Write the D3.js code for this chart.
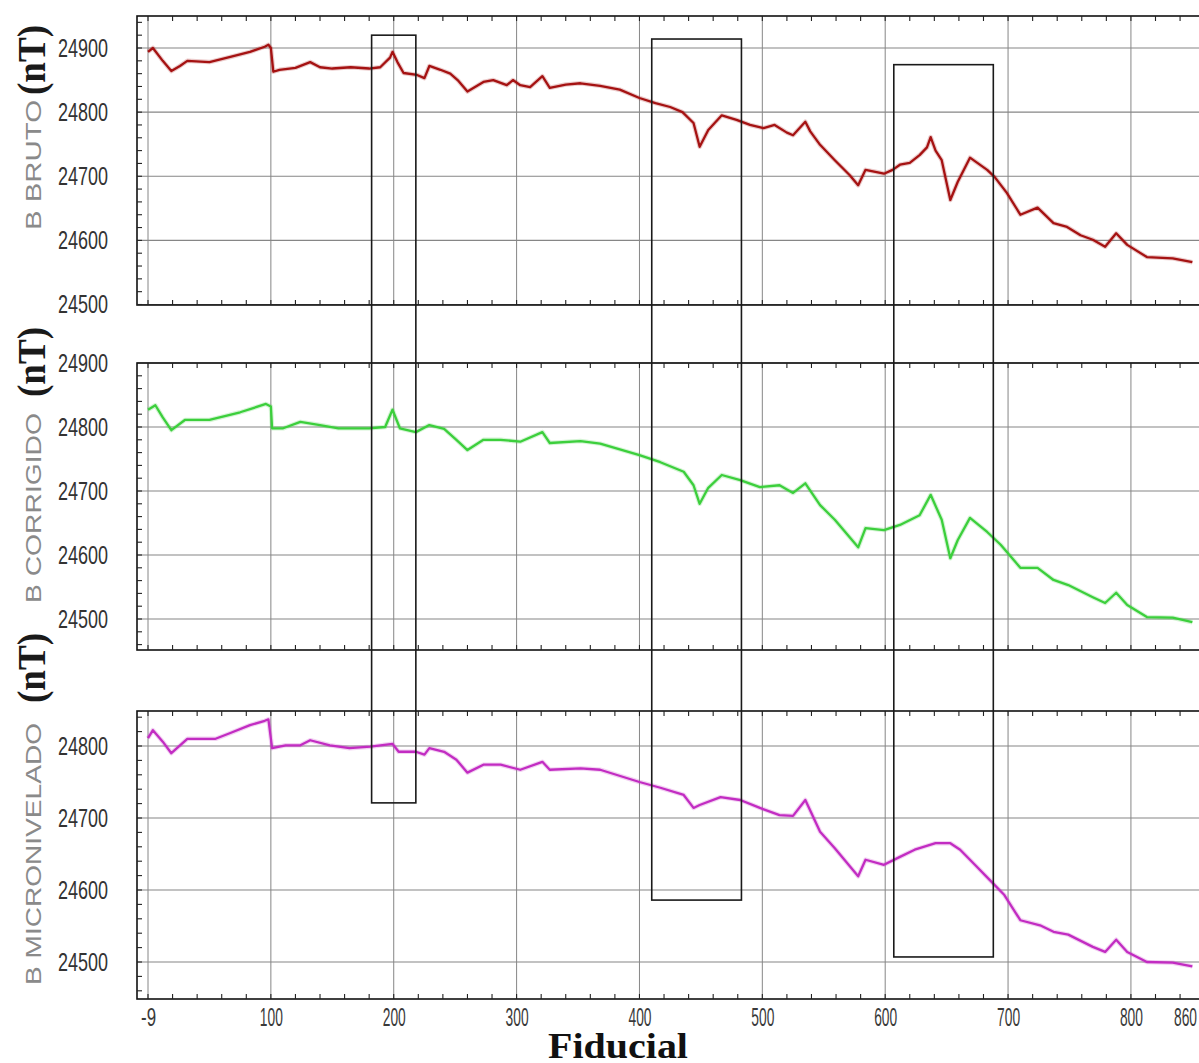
<!DOCTYPE html>
<html>
<head>
<meta charset="utf-8">
<script src="https://cdn.jsdelivr.net/npm/d3@7"></script>
<style>
  body { margin: 0; background: #fff; }
  svg { display: block; }
</style>
</head>
<body>
<svg id="chart" width="1199" height="1063"></svg>
<script>
// ---- data -------------------------------------------------------------
const fiducialTicks = [0, 100, 200, 300, 400, 500, 600, 700, 800, 844];
const fiducialTickLabels = ["-9", "100", "200", "300", "400", "500", "600", "700", "800", "860"];
const axisTitle = "Fiducial";
const unitLabel = "(nT)";
const panelTitles = ["B BRUTO", "B CORRIGIDO", "B MICRONIVELADO"];

const yTicksBruto = [24500, 24600, 24700, 24800, 24900];
const yTicksCorrigido = [24500, 24600, 24700, 24800, 24900];
const yTicksMicro = [24500, 24600, 24700, 24800];

// [fiducial, nT]
const bruto = [
  [0,24894],[4,24900],[12,24880],[19,24864],[26,24872],[32,24880],[50,24878],[67,24886],
  [83,24894],[95,24902],[98,24905],[100,24900],[102,24863],[107,24866],[120,24869],[132,24878],
  [140,24870],[150,24868],[165,24870],[180,24868],[189,24870],[197,24885],[199,24894],[203,24878],
  [208,24861],[219,24858],[225,24853],[229,24872],[238,24866],[246,24860],[252,24850],[260,24832],
  [273,24847],[281,24850],[292,24842],[297,24850],[303,24842],[311,24839],[321,24856],[327,24838],
  [340,24843],[352,24845],[368,24841],[384,24835],[400,24822],[413,24814],[425,24808],[435,24800],
  [444,24783],[449,24746],[456,24772],[467,24795],[479,24788],[490,24780],[501,24775],[510,24780],
  [520,24768],[525,24764],[535,24785],[539,24770],[547,24749],[559,24725],[571,24702],[578,24686],
  [584,24710],[592,24707],[599,24704],[606,24710],[612,24718],[620,24721],[628,24733],[634,24745],
  [637,24761],[641,24740],[646,24725],[653,24663],[659,24691],[669,24729],[683,24710],[689,24699],
  [699,24674],[710,24640],[724,24651],[737,24627],[748,24621],[759,24608],[769,24601],[779,24590],
  [788,24611],[797,24593],[813,24574],[834,24572],[850,24566]
];

const corrigido = [
  [0,24827],[6,24834],[12,24815],[19,24795],[30,24811],[50,24811],[75,24823],[96,24836],
  [100,24832],[101,24798],[110,24798],[124,24808],[140,24803],[155,24798],[180,24798],[193,24800],
  [199,24827],[205,24798],[218,24792],[229,24803],[241,24797],[251,24780],[260,24764],[273,24780],
  [287,24780],[303,24777],[321,24792],[327,24775],[352,24778],[368,24774],[400,24756],[417,24745],
  [436,24730],[444,24709],[449,24680],[456,24705],[467,24725],[482,24717],[498,24706],[514,24709],
  [525,24697],[535,24712],[547,24678],[559,24655],[578,24612],[584,24642],[599,24639],[612,24647],
  [628,24662],[637,24694],[646,24655],[653,24595],[659,24623],[669,24658],[683,24636],[694,24616],
  [710,24580],[724,24580],[737,24561],[749,24553],[769,24534],[779,24525],[788,24541],[797,24522],
  [813,24503],[834,24502],[850,24495]
];

const micronivelado = [
  [0,24811],[4,24822],[12,24806],[19,24790],[32,24810],[55,24810],[67,24818],[83,24829],
  [95,24835],[98,24837],[101,24797],[112,24801],[124,24801],[132,24808],[148,24801],[164,24797],
  [181,24799],[199,24803],[204,24792],[218,24792],[225,24788],[229,24797],[241,24792],[251,24781],
  [260,24763],[273,24774],[287,24774],[303,24767],[321,24778],[327,24767],[352,24769],[368,24767],
  [400,24750],[417,24742],[436,24732],[444,24714],[449,24718],[466,24729],[482,24725],[498,24714],
  [514,24704],[525,24703],[535,24725],[547,24681],[559,24658],[578,24619],[584,24642],[599,24635],
  [612,24646],[624,24656],[641,24665],[653,24665],[661,24656],[673,24635],[685,24614],[697,24593],
  [710,24558],[726,24551],[737,24542],[749,24538],[769,24521],[779,24514],[788,24531],[797,24514],
  [813,24500],[834,24499],[850,24494]
];

// highlighted fiducial windows: x range, top (upper panel, nT) and bottom (lower panel, nT)
const windows = [
  { from: 182, to: 218, top: 24920, bottom: 24721 },
  { from: 410, to: 483, top: 24914, bottom: 24586 },
  { from: 607, to: 688, top: 24874, bottom: 24507 }
];

// ---- layout -----------------------------------------------------------
const svg = d3.select("#chart");
const frameLeft = 137, frameRight = 1201;

const x = d3.scaleLinear().domain([0, 855]).range([148, 1198.5]);

const panels = [
  { title: panelTitles[0], data: bruto, ticks: yTicksBruto, color: "#a51212",
    y: d3.scaleLinear().domain([24500, 24900]).range([304.5, 48]), top: 16, bottom: 305,
    titleY: 165, titleLen: 130, unitY: 60 },
  { title: panelTitles[1], data: corrigido, ticks: yTicksCorrigido, color: "#3ccf3c",
    y: d3.scaleLinear().domain([24500, 24900]).range([619, 363]), top: 363, bottom: 650,
    titleY: 508, titleLen: 190, unitY: 362 },
  { title: panelTitles[2], data: micronivelado, ticks: yTicksMicro, color: "#c22cc2",
    y: d3.scaleLinear().domain([24500, 24800]).range([962, 746]), top: 711, bottom: 999,
    titleY: 854, titleLen: 262, unitY: 668 }
];

const minorX = d3.range(0, 841, 20);
const gridX = [0, 100, 200, 300, 400, 500, 600, 700, 800];

panels.forEach(p => {
  const g = svg.append("g");
  const yMin = p.y.invert(p.bottom), yMax = p.y.invert(p.top);

  // grid
  g.selectAll(".gx").data(gridX).join("line")
    .attr("x1", d => x(d)).attr("x2", d => x(d))
    .attr("y1", p.top).attr("y2", p.bottom)
    .attr("stroke", "#868686").attr("stroke-width", 1);
  g.selectAll(".gy").data(p.ticks).join("line")
    .attr("x1", frameLeft).attr("x2", frameRight)
    .attr("y1", d => p.y(d)).attr("y2", d => p.y(d))
    .attr("stroke", "#868686").attr("stroke-width", 1.2);

  // series: soft halo under a solid trace
  const line = d3.line().x(d => x(d[0])).y(d => p.y(d[1]));
  g.append("path").datum(p.data).attr("d", line)
    .attr("fill", "none").attr("stroke", p.color)
    .attr("stroke-width", 4.5).attr("stroke-opacity", 0.22).attr("stroke-linejoin", "round");
  g.append("path").datum(p.data).attr("d", line)
    .attr("fill", "none").attr("stroke", p.color)
    .attr("stroke-width", 2.3).attr("stroke-linejoin", "round");

  // frame
  g.append("rect")
    .attr("x", frameLeft).attr("y", p.top)
    .attr("width", frameRight - frameLeft).attr("height", p.bottom - p.top)
    .attr("fill", "none").attr("stroke", "#111").attr("stroke-width", 1.6);

  // inward minor ticks on top and bottom edges
  g.selectAll(".tt").data(minorX).join("line")
    .attr("x1", d => x(d)).attr("x2", d => x(d))
    .attr("y1", p.top).attr("y2", p.top + 5)
    .attr("stroke", "#222").attr("stroke-width", 1.1);
  g.selectAll(".tb").data(minorX).join("line")
    .attr("x1", d => x(d)).attr("x2", d => x(d))
    .attr("y1", p.bottom).attr("y2", p.bottom - 5)
    .attr("stroke", "#222").attr("stroke-width", 1.1);

  // inward minor ticks on the left edge
  const minorY = d3.range(Math.ceil(yMin / 20) * 20, yMax, 20);
  g.selectAll(".tl").data(minorY).join("line")
    .attr("x1", frameLeft).attr("x2", frameLeft + 5)
    .attr("y1", d => p.y(d)).attr("y2", d => p.y(d))
    .attr("stroke", "#222").attr("stroke-width", 1.1);

  // y axis labels
  const ax = g.append("g").attr("transform", `translate(${frameLeft},0)`)
    .call(d3.axisLeft(p.y).tickValues(p.ticks).tickSize(0).tickPadding(29).tickFormat(d3.format("d")));
  ax.select(".domain").remove();
  ax.selectAll("text")
    .attr("font-family", "'Liberation Sans', Arial, sans-serif")
    .attr("font-size", 25).attr("fill", "#333")
    .attr("textLength", 50).attr("lengthAdjust", "spacingAndGlyphs");

  // panel titles
  g.append("text")
    .attr("transform", `translate(41,${p.titleY}) rotate(-90)`)
    .attr("text-anchor", "middle")
    .attr("font-family", "'Liberation Sans', Arial, sans-serif")
    .attr("font-size", 22).attr("fill", "#8a8a8a")
    .attr("textLength", p.titleLen)
    .attr("lengthAdjust", "spacingAndGlyphs")
    .text(p.title);
  g.append("text")
    .attr("transform", `translate(45,${p.unitY}) rotate(-90)`)
    .attr("text-anchor", "middle")
    .attr("font-family", "'Liberation Serif', 'Times New Roman', serif")
    .attr("font-weight", "bold")
    .attr("font-size", 39).attr("fill", "#1a1a1a")
    .attr("textLength", 70).attr("lengthAdjust", "spacingAndGlyphs")
    .text(unitLabel);
});

// x axis under the last panel
const last = panels[2];
const xa = svg.append("g").attr("transform", `translate(0,${last.bottom})`)
  .call(d3.axisBottom(x).tickValues(fiducialTicks).tickSize(0).tickPadding(9)
    .tickFormat((d, i) => fiducialTickLabels[i]));
xa.select(".domain").remove();
xa.selectAll("text")
  .attr("font-family", "'Liberation Sans', Arial, sans-serif")
  .attr("font-size", 26).attr("fill", "#3a3a3a")
  .attr("textLength", (d, i) => fiducialTickLabels[i].length === 2 ? 15 : 23)
  .attr("lengthAdjust", "spacingAndGlyphs");

svg.append("text")
  .attr("x", 618).attr("y", 1058)
  .attr("text-anchor", "middle")
  .attr("font-family", "'Liberation Serif', 'Times New Roman', serif")
  .attr("font-weight", "bold").attr("font-size", 35).attr("fill", "#111")
  .attr("textLength", 140).attr("lengthAdjust", "spacingAndGlyphs")
  .text(axisTitle);

// highlighted windows spanning all panels
svg.selectAll(".win").data(windows).join("rect")
  .attr("x", d => x(d.from)).attr("width", d => x(d.to) - x(d.from))
  .attr("y", d => panels[0].y(d.top))
  .attr("height", d => panels[2].y(d.bottom) - panels[0].y(d.top))
  .attr("fill", "none").attr("stroke", "#1a1a1a").attr("stroke-width", 1.6);
</script>
</body>
</html>
